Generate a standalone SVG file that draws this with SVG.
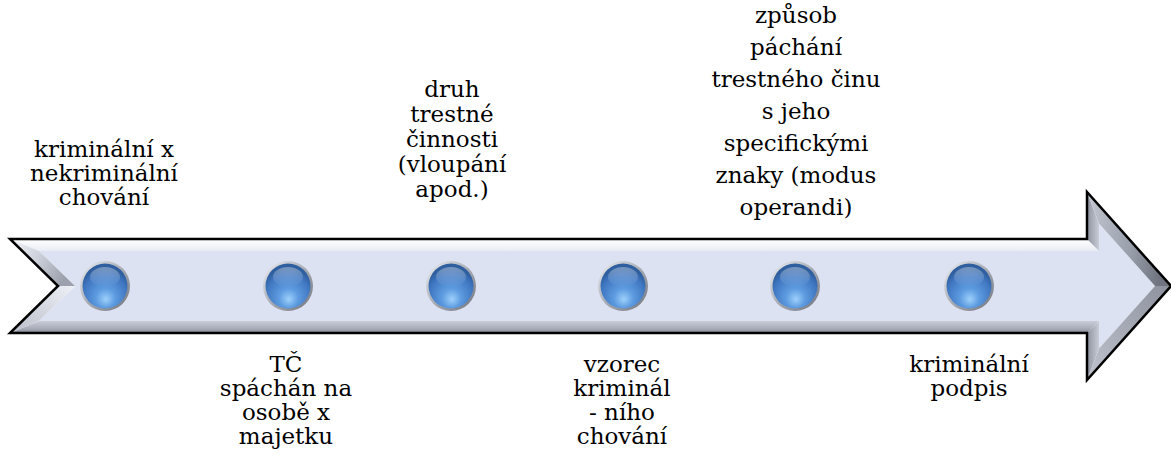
<svg xmlns="http://www.w3.org/2000/svg" width="1171" height="466" viewBox="0 0 1171 466">
  <defs>
    <style>
      .lbl { font-family: "DejaVu Serif", serif; font-size: 23px; fill: #000; text-anchor: middle; }
      .outline { fill: none; stroke: #000; stroke-width: 2.5; stroke-linejoin: miter; }
    </style>
    <!-- bevel facets -->
    <linearGradient id="gTop" x1="0" y1="0" x2="0" y2="1">
      <stop offset="0" stop-color="#ffffff"/>
      <stop offset="1" stop-color="#e9ecf5"/>
    </linearGradient>
    <linearGradient id="gBottom" x1="0" y1="0" x2="0" y2="1">
      <stop offset="0" stop-color="#c9cdd8"/>
      <stop offset="0.6" stop-color="#a9aeba"/>
      <stop offset="1" stop-color="#868b97"/>
    </linearGradient>
    <linearGradient id="gNotchTop" x1="0" y1="0" x2="1" y2="0.4">
      <stop offset="0" stop-color="#f4f5f9"/>
      <stop offset="0.55" stop-color="#c9cdd7"/>
      <stop offset="1" stop-color="#9ca1ad"/>
    </linearGradient>
    <linearGradient id="gNotchBot" x1="0" y1="1" x2="1" y2="0">
      <stop offset="0" stop-color="#b9bdc8"/>
      <stop offset="1" stop-color="#eef0f6"/>
    </linearGradient>
    <linearGradient id="gHeadTop" x1="0" y1="0" x2="1" y2="0.2">
      <stop offset="0" stop-color="#c4c8d3"/>
      <stop offset="0.6" stop-color="#9aa0ac"/>
      <stop offset="1" stop-color="#6f7480"/>
    </linearGradient>
    <linearGradient id="gHeadBot" x1="0" y1="1" x2="1" y2="0">
      <stop offset="0" stop-color="#bfc3ce"/>
      <stop offset="1" stop-color="#8c919d"/>
    </linearGradient>
    <linearGradient id="gHeadSide" x1="0" y1="0" x2="1" y2="0">
      <stop offset="0" stop-color="#8d929e"/>
      <stop offset="1" stop-color="#c8ccd7"/>
    </linearGradient>
    <!-- timeline dots -->
    <radialGradient id="gDot" cx="0.5" cy="0.72" r="0.62" fx="0.52" fy="0.8">
      <stop offset="0" stop-color="#9dd0fb"/>
      <stop offset="0.35" stop-color="#5d9be0"/>
      <stop offset="0.8" stop-color="#3f76c0"/>
      <stop offset="1" stop-color="#2f5f9f"/>
    </radialGradient>
    <linearGradient id="gDotShine" x1="0" y1="0" x2="0" y2="1">
      <stop offset="0" stop-color="#ffffff" stop-opacity="0.35"/>
      <stop offset="1" stop-color="#ffffff" stop-opacity="0"/>
    </linearGradient>
    <linearGradient id="gRim" x1="0" y1="0" x2="1" y2="1">
      <stop offset="0" stop-color="#eef0f4"/>
      <stop offset="0.5" stop-color="#a7abb3"/>
      <stop offset="1" stop-color="#6f737c"/>
    </linearGradient>
    <g id="dot">
      <circle r="25" fill="url(#gRim)"/>
      <circle r="22.5" fill="url(#gDot)"/>
      <ellipse cx="0" cy="-9" rx="15" ry="10" fill="url(#gDotShine)"/>
    </g>
  </defs>

  <rect width="1171" height="466" fill="#ffffff"/>

  <!-- timeline arrow with bevelled edges -->
  <g id="arrow">
    <polygon points="39,251 1099,251 1099,223.5 1155,286 1099,348.5 1099,321 39,321 75,286" fill="#dde2f3"/>
    <polygon points="10,239 1087,239 1099,251 39,251" fill="url(#gTop)"/>
    <polygon points="1087,239 1087,192 1099,223.5 1099,251" fill="url(#gHeadSide)"/>
    <polygon points="1087,192 1171,286 1155,286 1099,223.5" fill="url(#gHeadTop)"/>
    <polygon points="1171,286 1087,380 1099,348.5 1155,286" fill="url(#gHeadBot)"/>
    <polygon points="1087,380 1087,333 1099,321 1099,348.5" fill="url(#gHeadSide)"/>
    <polygon points="1087,333 10,333 39,321 1099,321" fill="url(#gBottom)"/>
    <polygon points="10,333 58,286 75,286 39,321" fill="url(#gNotchBot)"/>
    <polygon points="58,286 10,239 39,251 75,286" fill="url(#gNotchTop)"/>
    <polygon class="outline" points="10,239 1087,239 1087,192 1171,286 1087,380 1087,333 10,333 58,286"/>
  </g>

  <!-- milestones -->
  <g id="milestone-1">
    <use href="#dot" x="105" y="286"/>
    <text class="lbl"><tspan x="104" y="157">kriminální x</tspan><tspan x="104" y="181">nekriminální</tspan><tspan x="104" y="205">chování</tspan></text>
  </g>
  <g id="milestone-2">
    <use href="#dot" x="288" y="286"/>
    <text class="lbl"><tspan x="286" y="372">TČ</tspan><tspan x="286" y="396">spáchán na</tspan><tspan x="286" y="420">osobě x</tspan><tspan x="286" y="444">majetku</tspan></text>
  </g>
  <g id="milestone-3">
    <use href="#dot" x="451" y="286"/>
    <text class="lbl"><tspan x="452" y="97">druh</tspan><tspan x="452" y="122">trestné</tspan><tspan x="452" y="147">činnosti</tspan><tspan x="452" y="172">(vloupání</tspan><tspan x="452" y="197">apod.)</tspan></text>
  </g>
  <g id="milestone-4">
    <use href="#dot" x="623" y="286"/>
    <text class="lbl"><tspan x="622" y="372">vzorec</tspan><tspan x="622" y="396">kriminál</tspan><tspan x="622" y="420">- ního</tspan><tspan x="622" y="444">chování</tspan></text>
  </g>
  <g id="milestone-5">
    <use href="#dot" x="795" y="286"/>
    <text class="lbl"><tspan x="796" y="23">způsob</tspan><tspan x="796" y="55">páchání</tspan><tspan x="796" y="87">trestného činu</tspan><tspan x="796" y="119">s jeho</tspan><tspan x="796" y="151">specifickými</tspan><tspan x="796" y="183">znaky (modus</tspan><tspan x="796" y="215">operandi)</tspan></text>
  </g>
  <g id="milestone-6">
    <use href="#dot" x="969" y="286"/>
    <text class="lbl"><tspan x="969" y="372">kriminální</tspan><tspan x="969" y="396">podpis</tspan></text>
  </g>
</svg>
